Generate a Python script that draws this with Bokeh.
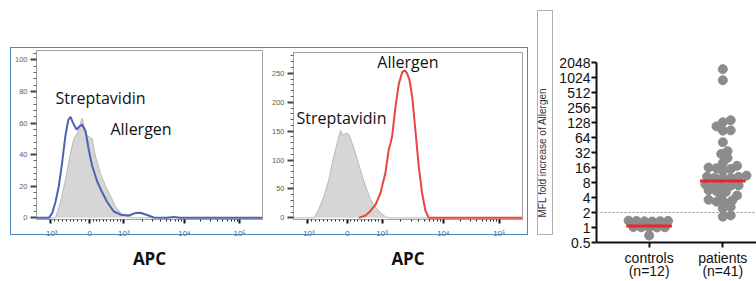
import math
from bokeh.plotting import figure
from bokeh.layouts import row
from bokeh.models import (Range1d, FixedTicker, Label, Span, LinearAxis,
                          GlobalInlineStyleSheet)
from bokeh.embed import file_html
from bokeh.resources import INLINE

# ---------------- data ----------------
# x axis of the flow histograms in channel units (0..1024)
apc_tick_pos = [63, 241, 396, 670, 920]
apc_tick_labels = ["-10\u00b3", "0", "10\u00b3", "10\u2074", "10\u2075"]

# panel 1
p1_gray_x = [0, 86, 109, 131, 154, 169, 187, 199, 207, 217, 230, 241, 252, 267, 290, 313, 335, 358, 381, 411, 434, 1024]
p1_gray_y = [0, 0, 10, 24, 41, 50, 54, 60, 63, 57, 52, 51, 50, 39, 28, 20, 14, 7, 3, 1, 0, 0]
p1_blue_x = [0, 56, 71, 86, 101, 116, 131, 144, 154, 166, 181, 196, 207, 222, 237, 252, 275, 298, 320, 350,
             381, 418, 448, 471, 501, 531, 592, 622, 650, 1024]
p1_blue_y = [0, 0, 3, 10, 20, 35, 52, 62, 64, 60, 56, 58, 59, 55, 43, 33, 23, 16, 10, 4,
             2, 1.5, 3, 3.2, 1.8, 0.2, 0, 0.6, 0, 0]
p1_yticks = [0, 20, 40, 60, 80, 100]

# panel 2
p2_gray_x = [0, 91, 113, 136, 158, 180, 195, 210, 221, 232, 247, 262, 277, 299, 322, 344, 367, 389, 411, 426, 1024]
p2_gray_y = [0, 0, 15, 37, 66, 106, 129, 151, 143, 146, 145, 129, 112, 83, 55, 32, 18, 9, 2, 0, 0]
p2_red_x = [292, 322, 344, 367, 389, 411, 426, 434, 441, 456, 471, 486, 498, 508, 519, 531, 545, 560, 575, 590, 605, 1024]
p2_red_y = [0, 4, 12, 23, 43, 78, 118, 129, 141, 192, 232, 252, 255, 250, 238, 209, 152, 89, 43, 12, 0, 0]
p2_yticks = [0, 50, 100, 150, 200, 250]

# dot plot
groups = ["controls", "patients"]
group_n = ["(n=12)", "(n=41)"]
controls = [0.69, 1.0, 1.0, 1.01, 1.01, 1.02, 1.32, 1.33, 1.34, 1.35, 1.36, 1.37]
patients = [1506, 903, 142, 129, 107, 89, 88, 51.5, 34, 30, 24.9, 19.8, 17.3, 16, 15.5, 15, 13.5,
            11, 10.5, 10.4, 10, 9.9, 9.7, 7.3, 7.2, 7, 6.9, 6.8, 5.6, 5.4, 5.2, 4.4, 4.2,
            3.6, 3.5, 3.3, 3.2, 2.6, 2.4, 1.75, 1.65]
medians = [1.07, 8.6]
threshold = 2
fold_ticks = [0.5, 1, 2, 4, 8, 16, 32, 64, 128, 256, 512, 1024, 2048]
fold_labels = ["0.5", "1", "2", "4", "8", "16", "32", "64", "128", "256", "512", "1024", "2048"]

# ---------------- helpers ----------------
def log_minor(a, b):
    return [a + (b - a) * math.log10(k) for k in range(2, 10)]

apc_minor = ([apc_tick_pos[1] - (apc_tick_pos[1] - apc_tick_pos[0]) * k / 10 for k in range(1, 10)] +
             [apc_tick_pos[1] + (apc_tick_pos[2] - apc_tick_pos[1]) * k / 10 for k in range(1, 10)] +
             log_minor(apc_tick_pos[2], apc_tick_pos[3]) + log_minor(apc_tick_pos[3], apc_tick_pos[4]))

H = 281


def flow_fig(width, mb_left, mb_right, mb_top, ymax, yticks, yminor_step):
    p = figure(width=width, height=H, x_range=Range1d(0, 1024), y_range=Range1d(-ymax * 0.01, ymax),
               output_backend="svg", toolbar_location=None,
               min_border_left=mb_left, min_border_right=mb_right,
               min_border_top=mb_top, min_border_bottom=62)
    p.frame_align = False
    p.grid.visible = False
    p.outline_line_color = "#a0a0a0"
    p.outline_line_width = 1
    p.background_fill_color = "white"
    p.border_fill_color = "white"
    minors = [v for v in range(0, int(ymax) + 1, yminor_step) if v not in yticks]
    p.yaxis.ticker = FixedTicker(ticks=yticks, minor_ticks=minors)
    p.yaxis.axis_line_color = "#a0a0a0"
    p.yaxis.major_tick_line_color = "#444444"
    p.yaxis.major_tick_line_width = 2
    p.yaxis.major_tick_out = 6
    p.yaxis.major_tick_in = 0
    p.yaxis.minor_tick_line_color = "#666666"
    p.yaxis.minor_tick_out = 3
    p.yaxis.minor_tick_in = 0
    p.yaxis.major_label_text_font_size = "7.5px"
    p.yaxis.major_label_text_color = "#606060"
    p.yaxis.major_label_standoff = 3
    p.xaxis.ticker = FixedTicker(ticks=apc_tick_pos, minor_ticks=apc_minor)
    p.xaxis.major_label_overrides = {t: l for t, l in zip(apc_tick_pos, apc_tick_labels)}
    p.xaxis.axis_line_color = "#a0a0a0"
    p.xaxis.major_tick_line_color = "#111111"
    p.xaxis.major_tick_line_width = 2
    p.xaxis.major_tick_out = 4
    p.xaxis.major_tick_in = 0
    p.xaxis.minor_tick_line_color = "#222222"
    p.xaxis.minor_tick_out = 2
    p.xaxis.minor_tick_in = 0
    p.xaxis.major_label_text_font_size = "8px"
    p.xaxis.major_label_text_color = "#606060"
    p.xaxis.major_label_standoff = 5
    p.xaxis.axis_label = "APC"
    p.xaxis.axis_label_text_font = "Open Sans"
    p.xaxis.axis_label_text_font_style = "bold"
    p.xaxis.axis_label_text_font_size = "17px"
    p.xaxis.axis_label_text_color = "#111111"
    p.xaxis.axis_label_standoff = 6
    return p


# ---------------- panel 1 ----------------
pa = flow_fig(266, 36, 4, 50, 106, p1_yticks, 4)
pa.varea(x=p1_gray_x, y1=0, y2=p1_gray_y, fill_color="#d6d6d6")
pa.line(p1_gray_x, p1_gray_y, line_color="#b8b8b8", line_width=1)
pa.line(p1_blue_x, p1_blue_y, line_color="#4c62b4", line_width=2)
pa.add_layout(Label(x=86, y=76, text="Streptavidin", text_font="Open Sans", text_font_size="16px",
                    text_color="#111111", text_baseline="middle"))
pa.add_layout(Label(x=335, y=56, text="Allergen", text_font="Open Sans", text_font_size="16px",
                    text_color="#111111", text_baseline="middle"))

# ---------------- panel 2 ----------------
pb = flow_fig(264, 27, 8, 52, 286, p2_yticks, 10)
pb.varea(x=p2_gray_x, y1=0, y2=p2_gray_y, fill_color="#d6d6d6")
pb.line(p2_gray_x, p2_gray_y, line_color="#b8b8b8", line_width=1)
pb.line(p2_red_x, p2_red_y, line_color="#e8453f", line_width=2)
pb.add_layout(Label(x=375, y=269, text="Allergen", text_font="Open Sans", text_font_size="16px",
                    text_color="#111111", text_baseline="middle"))
pb.add_layout(Label(x=13, y=173, text="Streptavidin", text_font="Open Sans", text_font_size="16px",
                    text_color="#111111", text_baseline="middle"))

# ---------------- dot plot ----------------
def swarm(vals, xc, d=6.5, step=1.5, px_x=70.0, px_y=15.25):
    out = [0.0] * len(vals)
    placed = []
    cands = [0.0] + [s * j * step for j in range(1, 100) for s in (1, -1)]
    for i in sorted(range(len(vals)), key=lambda k: vals[k]):
        yp = math.log2(vals[i]) * px_y
        for c in cands:
            if all((c - qx) ** 2 + (yp - qy) ** 2 >= d ** 2 for qx, qy in placed):
                break
        placed.append((c, yp))
        out[i] = xc + c / px_x
    return out

pc = figure(width=226, height=H, x_range=Range1d(0.286, 2.457), y_range=Range1d(0.5, 2048),
            y_axis_type="log", output_backend="svg", toolbar_location=None,
            min_border_left=66, min_border_right=0, min_border_top=62, min_border_bottom=36)
pc.frame_align = False
pc.grid.visible = False
pc.outline_line_color = None
pc.background_fill_color = "white"

pc.add_layout(Span(location=threshold, dimension="width", line_color="#8a8a8a",
                   line_dash="2 2", line_width=1))

for gi, vals in enumerate([controls, patients]):
    xs = swarm(vals, gi + 1)
    pc.scatter(xs, vals, size=9, fill_color="#8c8c8c", line_color="#8c8c8c")

pc.segment(x0=[g + 1 - 0.31 for g in range(2)], x1=[g + 1 + 0.31 for g in range(2)],
           y0=medians, y1=medians, line_color="#e8262a", line_width=3)

pc.yaxis.ticker = FixedTicker(ticks=fold_ticks)
pc.yaxis.major_label_overrides = {t: l for t, l in zip(fold_ticks, fold_labels)}
pc.yaxis.minor_tick_line_color = None
pc.yaxis.axis_line_width = 2
pc.yaxis.axis_line_color = "#111111"
pc.yaxis.major_tick_line_width = 2
pc.yaxis.major_tick_line_color = "#111111"
pc.yaxis.major_tick_out = 5
pc.yaxis.major_tick_in = 0
pc.yaxis.major_label_standoff = 1
pc.yaxis.major_label_text_font = "Liberation Sans"
pc.yaxis.major_label_text_font_size = "14px"
pc.yaxis.major_label_text_color = "#111111"
pc.yaxis.axis_label = "MFL fold increase of Allergen"
pc.yaxis.axis_label_text_font = "Liberation Sans"
pc.yaxis.axis_label_text_font_size = "10px"
pc.yaxis.axis_label_text_font_style = "normal"
pc.yaxis.axis_label_text_color = "#333333"
pc.yaxis.axis_label_standoff = 8

pc.xaxis.ticker = FixedTicker(ticks=[1, 2])
pc.xaxis.major_label_overrides = {i + 1: g for i, g in enumerate(groups)}
pc.xaxis.minor_tick_line_color = None
pc.xaxis.axis_line_width = 2
pc.xaxis.axis_line_color = "#111111"
pc.xaxis.major_tick_line_width = 2
pc.xaxis.major_tick_line_color = "#111111"
pc.xaxis.major_tick_out = 5
pc.xaxis.major_tick_in = 0
pc.xaxis.minor_tick_out = 0
pc.xaxis.major_label_standoff = 2
pc.xaxis.major_label_text_font = "Liberation Sans"
pc.xaxis.major_label_text_font_size = "14px"
pc.xaxis.major_label_text_color = "#111111"

n_axis = LinearAxis(ticker=FixedTicker(ticks=[1, 2]),
                    major_label_overrides={i + 1: n for i, n in enumerate(group_n)},
                    axis_line_color=None, major_tick_line_color=None, minor_tick_line_color=None,
                    major_tick_out=0, major_tick_in=0, minor_tick_out=0, minor_tick_in=0,
                    major_label_standoff=-6, major_label_text_font="Liberation Sans",
                    major_label_text_font_size="14px", major_label_text_color="#111111")
pc.add_layout(n_axis, "below")

css = """
html, body { overflow: hidden; }
body::before { content: ""; position: absolute; left: 10px; top: 47px; width: 518px; height: 188px;
  box-sizing: border-box; border: 1.5px solid #4f86c6; pointer-events: none; z-index: 10; }
body::after { content: ""; position: absolute; left: 537px; top: 10px; width: 16px; height: 225px;
  box-sizing: border-box; border: 1px solid #b0b0b0; pointer-events: none; z-index: 10; }
"""

layout = row(pa, pb, pc, stylesheets=[GlobalInlineStyleSheet(css=css)])

open("out.html", "w").write(file_html(layout, INLINE))
